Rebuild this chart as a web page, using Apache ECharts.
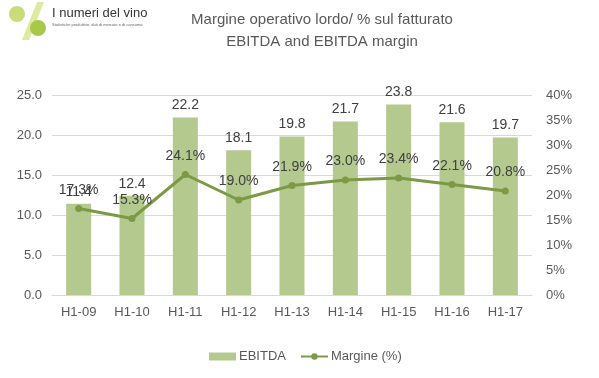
<!DOCTYPE html>
<html>
<head>
<meta charset="utf-8">
<script src="https://cdn.jsdelivr.net/npm/echarts@6/dist/echarts.min.js"></script>
<style>
html,body{margin:0;padding:0;background:#fff;}
#main{width:599px;height:378px;}
</style>
</head>
<body>
<div id="main"></div>
<script>
var categories = ['H1-09','H1-10','H1-11','H1-12','H1-13','H1-14','H1-15','H1-16','H1-17'];
var ebitda = [11.4, 12.4, 22.2, 18.1, 19.8, 21.7, 23.8, 21.6, 19.7];
var margin = [17.3, 15.3, 24.1, 19.0, 21.9, 23.0, 23.4, 22.1, 20.8];
var titleLines = ['Margine operativo lordo/ % sul fatturato', 'EBITDA and EBITDA margin'];
var seriesNames = ['EBITDA', 'Margine (%)'];

var font = 'Liberation Sans';
var txt = '#595959';
var barColor = '#b4c98d';
var lineColor = '#7c9a45';

var chart = echarts.init(document.getElementById('main'), null, {renderer:'canvas'});
chart.setOption({
  animation:false,
  backgroundColor:'#fff',
  textStyle:{fontFamily:font},
  title:{
    text: titleLines.join('\n'),
    left: 317, top: 4, textAlign:'center',
    textStyle:{fontFamily:font, fontSize:15, fontWeight:'normal', color:txt, lineHeight:22}
  },
  graphic:[
    {type:'polygon', shape:{points:[[22,40],[29,40],[44,2],[37,2]]}, style:{fill:'#dfeaa0'}},
    {type:'circle', shape:{cx:17, cy:14, r:8}, style:{fill:'#c9dc7a'}},
    {type:'circle', shape:{cx:38, cy:28, r:8}, style:{fill:'#a8c84a'}},
    {type:'text', left:52, top:7, style:{text:'I numeri del vino', font:'13px "Liberation Sans Narrow", "Liberation Sans"', fill:'#333'}},
    {type:'text', left:52, top:23, style:{text:'Statistiche produttive, dati di mercato e di consumo', font:'4px "Liberation Sans"', fill:'#666'}}
  ],
  legend:{
    bottom: 10, left:204, itemGap:14, itemWidth:27, itemHeight:8,
    textStyle:{fontFamily:font, fontSize:13, color:txt, padding:[0,0,0,-2]},
    data:[{name:seriesNames[0], icon:'rect'}, {name:seriesNames[1]}]
  },
  grid:{left:52, right:67, top:95, bottom:83, containLabel:false},
  xAxis:{
    type:'category', data:categories,
    axisLine:{lineStyle:{color:'#d9d9d9', width:1}},
    axisTick:{show:false},
    axisLabel:{color:txt, fontSize:13, fontFamily:font, margin:11}
  },
  yAxis:[
    {type:'value', min:0, max:25, interval:5,
     axisLine:{show:false}, axisTick:{show:false},
     splitLine:{lineStyle:{color:'#d9d9d9'}},
     axisLabel:{color:txt, fontSize:13, fontFamily:font, margin:10, formatter:function(v){return v.toFixed(1);}}},
    {type:'value', min:0, max:40, interval:5,
     axisLine:{show:false}, axisTick:{show:false}, splitLine:{show:false},
     axisLabel:{color:txt, fontSize:13, fontFamily:font, margin:14, formatter:'{value}%'}}
  ],
  series:[
    {name:seriesNames[0], type:'bar', data:ebitda, barWidth:25, itemStyle:{color:barColor},
     label:{show:true, position:'top', distance:5, color:'#404040', fontSize:14, fontFamily:font,
            formatter:function(p){return p.value.toFixed(1);}}},
    {name:seriesNames[1], type:'line', yAxisIndex:1, data:margin, symbol:'circle', symbolSize:7,
     lineStyle:{color:lineColor, width:3}, itemStyle:{color:lineColor},
     label:{show:true, position:'top', distance:8, color:'#404040', fontSize:14, fontFamily:font,
            formatter:function(p){return p.value.toFixed(1)+'%';}}}
  ]
});
</script>
</body>
</html>
